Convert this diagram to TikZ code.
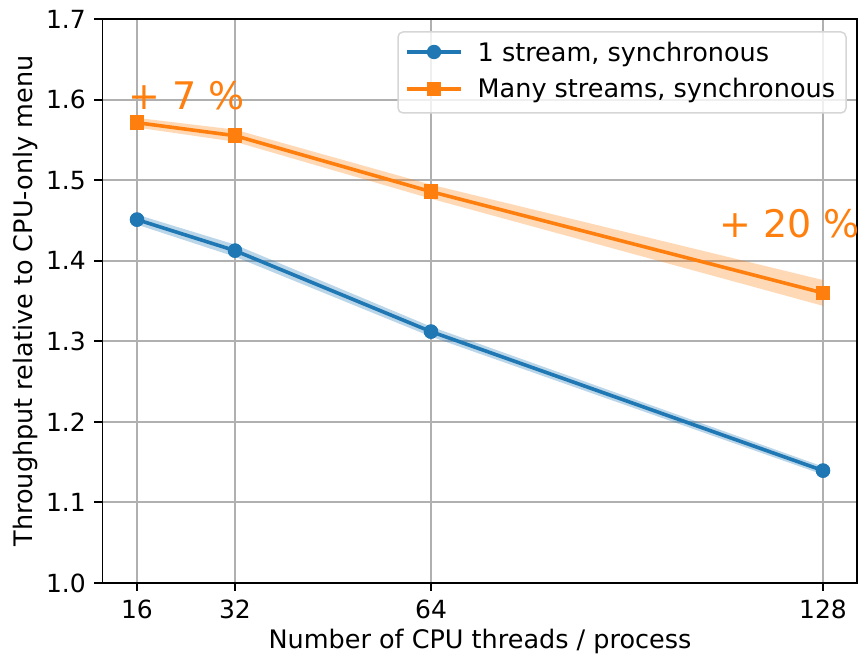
\documentclass[tikz,border=0pt]{standalone}
\usepackage{fontspec}
\setmainfont{DejaVu Sans}
\definecolor{mplblue}{HTML}{1F77B4}
\definecolor{mplorange}{HTML}{FF7F0E}
\definecolor{gridgray}{HTML}{B0B0B0}
\definecolor{legendedge}{HTML}{D6D6D6}
\begin{document}
\begin{tikzpicture}[x=1pt,y=1pt,
  gridline/.style={draw=gridgray, line width=1.9pt},
  spine/.style={draw=black, line width=1.9pt},
  ticklabel/.style={font=\fontsize{25}{29}\selectfont, inner sep=0pt, text=black},
  axislabel/.style={font=\fontsize{25.5}{30}\selectfont, inner sep=0pt, text=black},
  bluedot/.style={circle, fill=mplblue, inner sep=0pt, minimum size=14.4pt},
  orangesq/.style={rectangle, fill=mplorange, inner sep=0pt, minimum size=14.4pt},
  blueline/.style={draw=mplblue, line width=3.6pt},
  orangeline/.style={draw=mplorange, line width=3.6pt},
  gainlabel/.style={font=\fontsize{38}{43}\selectfont, text=mplorange, inner sep=0pt, anchor=base west},
  legendtext/.style={font=\fontsize{25.5}{30}\selectfont, inner sep=0pt, anchor=base west},
]
\useasboundingbox (0,0) rectangle (859,654);

% data axes: x in threads, y in hundredths above 1.0
\begin{scope}[shift={(39pt,71pt)}, x=6.125pt, y=8.057pt]
  \coordinate (ll) at (10.37,0);
  \coordinate (ur) at (133.6,70);

  % grid
  \foreach \t in {16,32,64,128}
    \draw[gridline] (\t,0) -- (\t,70);
  \foreach \v in {0,10,...,70}
    \draw[gridline] (10.37,\v) -- (133.6,\v);

  % uncertainty bands
  \fill[mplorange, opacity=0.3]
    (16,57.73) -- (32,56.27) -- (64,49.44) -- (128,37.6) --
    (128,34.4) -- (64,47.7) -- (32,54.77) -- (16,56.53) -- cycle;
  \fill[mplblue, opacity=0.3]
    (16,45.72) -- (32,42.0) -- (64,31.82) -- (128,14.45) --
    (128,13.45) -- (64,30.58) -- (32,40.5) -- (16,44.48) -- cycle;

  % markers
  \node[bluedot] (b16) at (16,45.1) {};
  \node[bluedot] (b32) at (32,41.25) {};
  \node[bluedot] (b64) at (64,31.2) {};
  \node[bluedot] (b128) at (128,13.95) {};
  \node[orangesq] (o16) at (16,57.13) {};
  \node[orangesq] (o32) at (32,55.52) {};
  \node[orangesq] (o64) at (64,48.57) {};
  \node[orangesq] (o128) at (128,36.0) {};

  % lines through the markers, markers redrawn on top
  \draw[blueline] (b16.center) -- (b32.center) -- (b64.center) -- (b128.center);
  \draw[orangeline] (o16.center) -- (o32.center) -- (o64.center) -- (o128.center);
  \foreach \n in {b16,b32,b64,b128}
    \node[bluedot] at (\n) {};
  \foreach \n in {o16,o32,o64,o128}
    \node[orangesq] at (\n) {};

  % spines and ticks
  \draw[spine] (ll) rectangle (ur);
  \foreach \t in {16,32,64,128} {
    \draw[spine] (\t,0) -- ++(0,-8.4pt);
    \node[ticklabel, anchor=north] (xt\t) at ([yshift=-16.8pt]\t,0) {\t};
  }
  \foreach \v/\l in {0/1.0,10/1.1,20/1.2,30/1.3,40/1.4,50/1.5,60/1.6,70/1.7} {
    \draw[spine] (10.37,\v) -- ++(-8.4pt,0);
    \node[ticklabel, anchor=east] (yt\v) at ([xshift=-16.5pt]10.37,\v) {\l};
  }
\end{scope}

% axis labels
\node[axislabel, anchor=base] (xlabel) at (480,6) {Number of CPU threads / process};
\node[axislabel, anchor=base, rotate=90] (ylabel) at (32.5,353) {Throughput relative to CPU-only menu};

% gain annotations
\node[gainlabel] (gain7) at (128,544) {+ 7 \%};
\node[gainlabel] (gain20) at (719,416) {+ 20 \%};

% legend
\node[draw=legendedge, line width=1.5pt, rounded corners=5pt, fill=white, fill opacity=0.8,
      minimum width=448pt, minimum height=81pt, inner sep=0pt] (legend) at (622,581.5) {};
\coordinate (lbA) at (407,602);
\coordinate (lbB) at (461,602);
\coordinate (loA) at (407,565);
\coordinate (loB) at (461,565);
\draw[blueline] (lbA) -- (lbB);
\node[bluedot] (lbdot) at (434,602) {};
\draw[orangeline] (loA) -- (loB);
\node[orangesq] (losq) at (434,565) {};
\node[legendtext] (lbtext) at (477.5,592) {1 stream, synchronous};
\node[legendtext] (lotext) at (477.5,556) {Many streams, synchronous};
\end{tikzpicture}
\end{document}
